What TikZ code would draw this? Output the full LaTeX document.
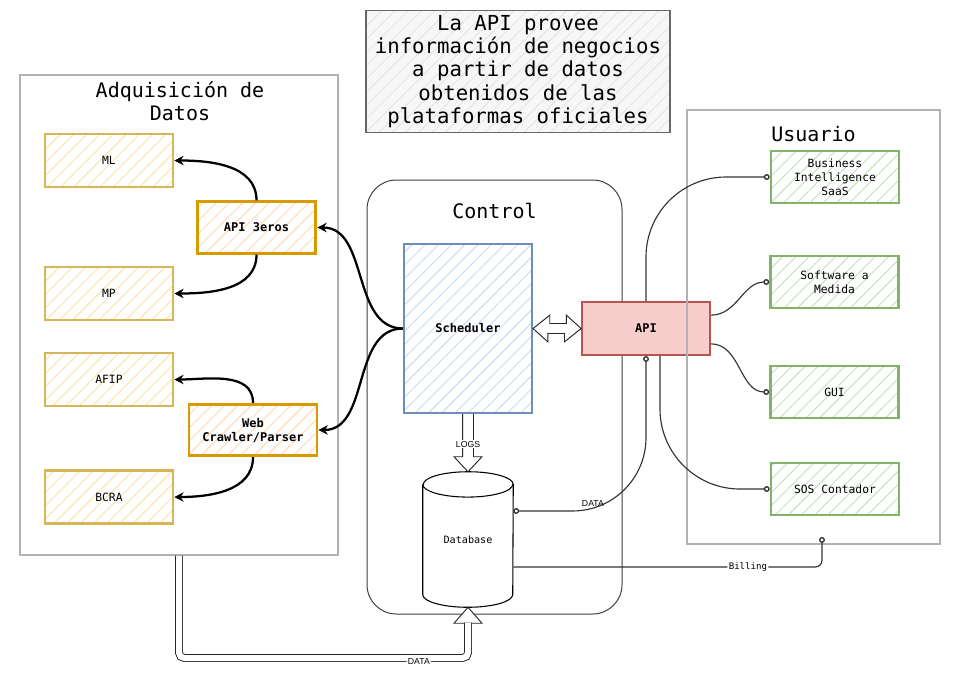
\documentclass[tikz,border=0pt]{standalone}
\usepackage{fontspec}
\setmainfont{DejaVu Sans Mono}
\newfontfamily\tagfont{Liberation Sans}
\usetikzlibrary{arrows.meta}
\usetikzlibrary{patterns.meta}
\usetikzlibrary{positioning}
\definecolor{srcdraw}{HTML}{D6B656}
\definecolor{srchatch}{HTML}{FBE3A6}
\definecolor{tooldraw}{HTML}{D79B00}
\definecolor{toolhatch}{HTML}{FFD8B0}
\definecolor{ctrldraw}{HTML}{6C8EBF}
\definecolor{ctrlhatch}{HTML}{C9DBF5}
\definecolor{apidraw}{HTML}{B85450}
\definecolor{apifill}{HTML}{F8CECC}
\definecolor{userdraw}{HTML}{82B366}
\definecolor{userhatch}{HTML}{C6E0C2}
\definecolor{notedraw}{HTML}{666666}
\definecolor{notefill}{HTML}{F7F7F7}
\tikzset{
	hatched/.style={pattern={Lines[angle=45,distance=7pt,line width=0.7pt]}, pattern color=#1},
	panel/.style={draw=gray!60, line width=0.8pt, inner sep=0pt},
	paneltitle/.style={font=\fontsize{15}{17.25}\selectfont, align=center, inner sep=0pt},
	srcbox/.style={draw=srcdraw, line width=1.9pt, hatched=srchatch,
		minimum width=96pt, minimum height=40pt, inner sep=0pt,
		font=\fontsize{8.5}{10.5}\selectfont},
	toolbox/.style={draw=tooldraw, line width=2.2pt, hatched=toolhatch,
		minimum width=89pt, minimum height=38.5pt, inner sep=0pt, align=center,
		font=\bfseries\fontsize{9}{10.5}\selectfont},
	userbox/.style={draw=userdraw, line width=2pt, hatched=userhatch,
		minimum width=96pt, minimum height=39pt, inner sep=0pt, align=center,
		font=\fontsize{8.5}{10.5}\selectfont},
	grab/.style={-{Stealth[length=7pt,width=7pt]}, line width=1.7pt},
	wire/.style={line width=0.85pt, draw=black!80},
	pin/.tip={Circle[open,length=4.4pt,width=4.4pt,line width=1pt]},
	plug/.style={wire, -pin},
	hollow/.style={draw=black!85, line width=0.7pt, fill=white},
	tag/.style={font=\tagfont\fontsize{6.5}{7}\selectfont, fill=white, inner sep=1pt}
}
\begin{document}
\begin{tikzpicture}[x=0.75pt, y=-0.75pt]
	\fill[white] (0,0) rectangle (954,683);
	% note on top
	\node[draw=notedraw, line width=0.9pt, preaction={fill=notefill}, hatched=gray!20,
		minimum width=228pt, minimum height=92pt, align=center,
		font=\fontsize{15.5}{17.5}\selectfont] (note) at (518,71.5)
		{La API provee\\información de negocios\\a partir de datos\\obtenidos de las\\plataformas oficiales};
	% adquisicion
	\node[panel, minimum width=238.5pt, minimum height=360pt] (adq) at (179,315) {};
	\node[paneltitle] (adqtitle) at (180,101) {Adquisición de\\Datos};
	\node[srcbox] (ml) at (109,160.5) {ML};
	\node[srcbox] (mp) at (109,293.5) {MP};
	\node[srcbox] (afip) at (109,379.5) {AFIP};
	\node[srcbox] (bcra) at (109,497) {BCRA};
	\node[toolbox] (a3) at (256.5,227.5) {API 3eros};
	\node[toolbox, minimum width=96pt] (web) at (253,430) {Web\\Crawler/Parser};
	% control
	\node[panel, draw=black!75, line width=0.75pt, rounded corners=22pt,
		minimum width=191.25pt, minimum height=325.5pt] (ctrl) at (494.5,397) {};
	\node[paneltitle, below=17.5pt of ctrl.north] (ctrltitle) {Control};
	\node[draw=ctrldraw, line width=1.6pt, hatched=ctrlhatch, minimum width=96pt,
		minimum height=126.75pt, font=\bfseries\fontsize{9}{10.5}\selectfont] (sched) at (468,328.5) {Scheduler};
	\node[draw=apidraw, line width=1.3pt, fill=apifill, minimum width=96pt, minimum height=40pt,
		font=\bfseries\fontsize{9}{10.5}\selectfont] (api) at (646,328.5) {API};
	\node[minimum width=67.5pt, minimum height=101.25pt, font=\fontsize{7.6}{9}\selectfont] (db) at (468,539.5) {Database};
	\draw[line width=0.8pt] ([yshift=-9.5pt]db.north west) -- ([yshift=9.5pt]db.south west)
		arc[start angle=180, end angle=360, x radius=33.75pt, y radius=9.5pt]
		-- ([yshift=-9.5pt]db.north east)
		arc[start angle=0, end angle=180, x radius=33.75pt, y radius=9.5pt];
	\draw[line width=0.8pt] ([yshift=-9.5pt]db.north west)
		arc[start angle=180, end angle=360, x radius=33.75pt, y radius=9.5pt];
	% usuario
	\node[panel, minimum width=189.75pt, minimum height=325.5pt] (usr) at (813.5,327) {};
	\node[paneltitle, below=12.3pt of usr.north] (usrtitle) {Usuario};
	\node[userbox] (bi) at (835,177) {Business\\Intelligence\\SaaS};
	\node[userbox] (sw) at (834.5,282) {Software a\\Medida};
	\node[userbox] (gui) at (834.5,392) {GUI};
	\node[userbox] (sos) at (835,489) {SOS Contador};

	% scraping and calls
	\draw[grab] (a3.north) to[out=90,in=0] (ml.east);
	\draw[grab] (a3.south) to[out=-90,in=0] (mp.east);
	\draw[grab] (web.north) to[out=90,in=0] (afip.east);
	\draw[grab] (web.south) to[out=-90,in=0] (bcra.east);
	\draw[grab] (sched.west) to[out=180,in=0] (a3.east);
	\draw[grab] (sched.west) to[out=180,in=0] (web.east);

	% hollow arrows
	\draw[hollow] (sched.east) -- ++(12.5pt,10pt) -- ++(0,-6.25pt) -- ++(12.5pt,0) -- ++(0,6.25pt)
		-- (api.west) -- ++(-12.5pt,-10pt) -- ++(0,6.25pt) -- ++(-12.5pt,0) -- ++(0,-6.25pt) -- cycle;
	\draw[hollow] ([xshift=-4.1pt]sched.south) -- ([xshift=-4.1pt,yshift=11.25pt]db.north)
		-- ([xshift=-10.5pt,yshift=11.25pt]db.north) -- (db.north)
		-- ([xshift=10.5pt,yshift=11.25pt]db.north) -- ([xshift=4.1pt,yshift=11.25pt]db.north)
		-- ([xshift=4.1pt]sched.south);
	\node[tag, below=19pt of sched.south] (logs) {LOGS};
	\coordinate (floor) at (181,658);
	\draw[hollow] ([xshift=-10.5pt,yshift=-12pt]db.south) -- (db.south) -- ([xshift=10.5pt,yshift=-12pt]db.south) -- cycle;
	\draw[line width=0.7pt, draw=black!85, double=white, double distance=4.5pt, rounded corners=4pt]
		(adq.south) -- (adq.south |- floor) -- node[tag, pos=0.83, yshift=-3pt] (datain) {DATA}
		(floor -| db.south) -- ([yshift=-11.6pt]db.south);

	% api to users
	\draw[plug, rounded corners=60pt] (api.north) |- (bi.west);
	\draw[plug] ([yshift=10pt]api.east) to[out=0,in=180] (sw.west);
	\draw[plug] ([yshift=-11.5pt]api.east) to[out=0,in=180] (gui.west);
	\draw[plug, rounded corners=60pt] ([xshift=10.5pt]api.south) |- (sos.west);
	\draw[wire, rounded corners=55pt, pin-pin]
		([yshift=21.4pt]db.east) -| node[tag, pos=0.3, above=2pt, fill=none] (dataout) {DATA} (api.south);
	\coordinate (billpin) at (822,537);
	\draw[plug, rounded corners=5pt] ([yshift=-20.6pt]db.east) -| node[tag, pos=0.38,
		font=\fontsize{6.8}{8}\selectfont] (billing) {Billing} (billpin);
\end{tikzpicture}
\end{document}
